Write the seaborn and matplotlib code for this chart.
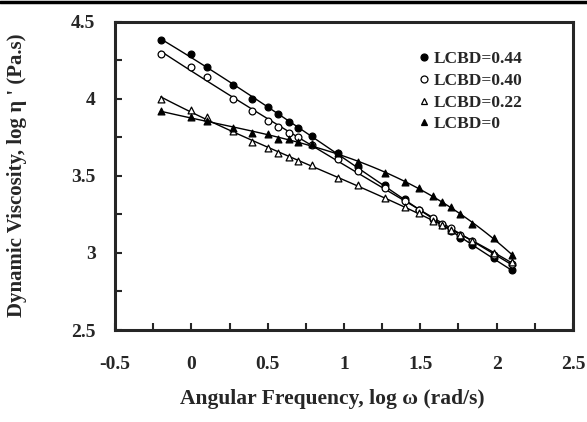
import numpy as np
import pandas as pd
import seaborn as sns
import matplotlib.pyplot as plt
from matplotlib.lines import Line2D

# log angular frequency (rad/s), same grid for all samples
log_w = [-0.2, 0.0, 0.1, 0.27, 0.4, 0.5, 0.57, 0.64, 0.7, 0.79, 0.96,
         1.09, 1.27, 1.4, 1.49, 1.58, 1.64, 1.7, 1.76, 1.84, 1.98, 2.1]

# log dynamic viscosity (Pa.s)
visc_044 = [4.38, 4.29, 4.21, 4.09, 4.00, 3.95, 3.90, 3.85, 3.81, 3.76, 3.65,
            3.56, 3.44, 3.35, 3.28, 3.22, 3.18, 3.14, 3.10, 3.05, 2.97, 2.89]
visc_040 = [4.29, 4.21, 4.14, 4.00, 3.92, 3.86, 3.82, 3.78, 3.75, 3.70, 3.61,
            3.53, 3.42, 3.34, 3.28, 3.23, 3.19, 3.16, 3.12, 3.08, 2.99, 2.93]
visc_022 = [4.00, 3.93, 3.88, 3.79, 3.72, 3.68, 3.65, 3.62, 3.60, 3.57, 3.49,
            3.44, 3.36, 3.30, 3.26, 3.21, 3.18, 3.15, 3.12, 3.08, 3.00, 2.94]
visc_000 = [3.92, 3.88, 3.86, 3.81, 3.78, 3.77, 3.74, 3.74, 3.72, 3.71, 3.65,
            3.59, 3.52, 3.46, 3.42, 3.37, 3.33, 3.30, 3.25, 3.19, 3.10, 2.99]

labels = ["LCBD=0.44", "LCBD=0.40", "LCBD=0.22", "LCBD=0"]
series = [visc_044, visc_040, visc_022, visc_000]
markers = ["o", "o", "^", "^"]
faces = ["black", "white", "white", "black"]

x_ticks = [-0.5, 0, 0.5, 1, 1.5, 2, 2.5]
x_ticklabels = ["-0.5", "0", "0.5", "1", "1.5", "2", "2.5"]
y_ticks = [2.5, 3, 3.5, 4, 4.5]
y_ticklabels = ["2.5", "3", "3.5", "4", "4.5"]

sns.set_style("ticks")
plt.rcParams["font.family"] = ["Liberation Serif", "DejaVu Serif"]
plt.rcParams["font.weight"] = "bold"
plt.rcParams["xtick.direction"] = "in"
plt.rcParams["ytick.direction"] = "in"

fig = plt.figure(figsize=(5.87, 4.22), dpi=100)
ax = fig.add_axes([0.196, 0.218, 0.78, 0.73])

for lab, y, m, fc in zip(labels, series, markers, faces):
    df = pd.DataFrame({"x": log_w, "y": y})
    sns.regplot(data=df, x="x", y="y", order=3, ci=None, truncate=True, ax=ax,
                marker=m,
                scatter_kws={"s": 24, "facecolors": fc, "edgecolors": "black",
                             "linewidths": 0.9, "alpha": 1, "zorder": 3},
                line_kws={"color": "black", "linewidth": 1.0, "zorder": 2})

ax.set_xlim(-0.5, 2.5)
ax.set_ylim(2.5, 4.5)
ax.set_xticks(x_ticks)
ax.set_xticklabels(x_ticklabels)
ax.set_yticks(y_ticks)
ax.set_yticklabels(y_ticklabels)
ax.set_xticks(np.arange(-0.25, 2.5, 0.5), minor=True)
ax.set_yticks(np.arange(2.75, 4.5, 0.5), minor=True)
ax.tick_params(which="both", length=5, width=1.5, labelsize=14)
ax.tick_params(axis="x", pad=19)
ax.tick_params(axis="y", pad=14)
for s in ax.spines.values():
    s.set_linewidth(2.2)

ax.set_xlabel("Angular Frequency, log \u03c9 (rad/s)", fontsize=15.5, fontweight="bold")
ax.set_ylabel("Dynamic Viscosity, log \u03b7 ' (Pa.s)", fontsize=15, fontweight="bold")
ax.xaxis.set_label_coords(0.474, -0.19)
ax.yaxis.set_label_coords(-0.192, 0.503)

handles = [Line2D([], [], linestyle="none", marker=m, markersize=5,
                  markerfacecolor=fc, markeredgecolor="black", markeredgewidth=0.9)
           for m, fc in zip(markers, faces)]
ax.legend(handles, labels, loc="upper left", bbox_to_anchor=(0.664, 0.905),
          frameon=False, borderaxespad=0, borderpad=0, handlelength=0.55,
          handletextpad=0.3, labelspacing=0.32,
          prop={"family": "Liberation Serif", "weight": "bold", "size": 12.5})

# rule across the top of the page
fig.add_artist(Line2D([0, 1], [0.996, 0.996], color="black", linewidth=2.5))

fig.savefig("out.png", dpi=100)
